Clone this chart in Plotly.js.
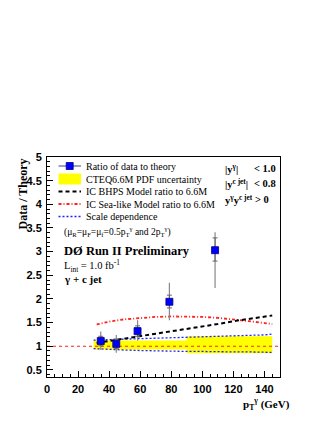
<!DOCTYPE html>
<html><head><meta charset="utf-8">
<script src="https://cdn.plot.ly/plotly-3.0.1.min.js"></script>
<style>html,body{margin:0;padding:0;background:#fff}</style>
</head><body><div id="chart" style="width:327px;height:423px"></div>
<script>
// ---- data ----
const ptX = [34.6, 44.6, 58.3, 78.8, 108.2];
const ptY = [1.11, 1.05, 1.32, 1.94, 3.03];
const totUp = [0.20, 0.19, 0.23, 0.40, 0.38];
const totDn = [0.19, 0.19, 0.20, 0.39, 0.80];
const statUp = [0.10, 0.10, 0.11, 0.14, 0.26];
const statDn = [0.10, 0.10, 0.11, 0.13, 0.23];

const bandEdges = [30, 90, 145];
const bandLo = [0.93, 0.85];
const bandHi = [1.12, 1.21];

const curveX = [32, 40, 50, 60, 70, 80, 90, 100, 110, 120, 130, 140, 145];
const bhpsY  = [1.07, 1.11, 1.16, 1.21, 1.27, 1.32, 1.37, 1.42, 1.47, 1.53, 1.58, 1.63, 1.65];
const seaY   = [1.46, 1.52, 1.57, 1.60, 1.62, 1.63, 1.63, 1.62, 1.60, 1.57, 1.53, 1.49, 1.47];
const scaleX = [30, 40, 50, 60, 70, 80, 90, 100, 110, 120, 130, 140, 145];
const scaleHi = [1.13, 1.14, 1.15, 1.16, 1.17, 1.18, 1.19, 1.20, 1.21, 1.22, 1.22, 1.24, 1.26];
const scaleLo = [0.95, 0.93, 0.92, 0.91, 0.90, 0.90, 0.89, 0.89, 0.88, 0.88, 0.88, 0.87, 0.87];
const refX = [0, 150];
const refY = [1, 1];

const legendLabels = ["Ratio of data to theory", "CTEQ6.6M PDF uncertainty",
  "IC BHPS Model ratio to 6.6M", "IC Sea-like Model ratio to 6.6M", "Scale dependence"];

// ---- build band polygon (histogram steps) ----
const bx = [], by = [];
for (let i = 0; i < bandLo.length; i++) { bx.push(bandEdges[i], bandEdges[i+1]); by.push(bandHi[i], bandHi[i]); }
for (let i = bandLo.length - 1; i >= 0; i--) { bx.push(bandEdges[i+1], bandEdges[i]); by.push(bandLo[i], bandLo[i]); }
bx.push(bx[0]); by.push(by[0]);

const blueDot = {color: '#2020ff', width: 1.3, dash: '2px,2px'};
const redDashDot = {color: '#ff2020', width: 1.8, dash: '3px,2px,1px,2px'};
const blackDash = {color: '#000', width: 2, dash: '4px,3px'};

const traces = [
  {x: bx, y: by, type: 'scatter', mode: 'lines', fill: 'toself', fillcolor: '#ffff00',
   line: {width: 0}, hoverinfo: 'skip'},
  {x: scaleX, y: scaleHi, type: 'scatter', mode: 'lines', line: blueDot},
  {x: scaleX, y: scaleLo, type: 'scatter', mode: 'lines', line: blueDot},
  {x: refX, y: refY, type: 'scatter', mode: 'lines', line: {color: '#ff2020', width: 1, dash: 'dot'}},
  {x: curveX, y: seaY, type: 'scatter', mode: 'lines', line: redDashDot},
  {x: curveX, y: bhpsY, type: 'scatter', mode: 'lines', line: blackDash},
  {x: ptX, y: ptY, type: 'scatter', mode: 'markers',
   marker: {symbol: 'square', size: 1, color: 'rgba(0,0,0,0)'},
   error_y: {type: 'data', symmetric: false, array: totUp, arrayminus: totDn, color: '#888', thickness: 1.2, width: 0}},
  {x: ptX, y: ptY, type: 'scatter', mode: 'markers',
   marker: {symbol: 'square', size: 7, color: '#0000ff', line: {color: '#000080', width: 0.8}},
   error_y: {type: 'data', symmetric: false, array: statUp, arrayminus: statDn, color: '#666', thickness: 1, width: 2.5}}
];

// ---- legend / text (pixel helpers) ----
const L = 47, T = 157, W = 233, H = 220;
const px = v => (v - L) / W;
const py = v => (T + H - v) / H;
const serif = 'Liberation Serif, Times New Roman, serif';
const ann = [];
function A(text, x, y, size, bold, xanchor) {
  ann.push({text: text, x: px(x), y: py(y), xref: 'paper', yref: 'paper', showarrow: false,
    xanchor: xanchor || 'left', yanchor: 'middle',
    font: {family: serif, size: size, color: '#000', weight: bold ? 'bold' : 'normal'}});
}
const rowY = [166, 179, 191.5, 204, 216.5];
legendLabels.forEach((t, i) => A(t, 84, rowY[i], 10, false));
A("(μ<sub>R</sub>=μ<sub>F</sub>=μ<sub>f</sub>=0.5p<sub>T</sub><sup>γ</sup> and 2p<sub>T</sub><sup>γ</sup>)", 62, 231, 9.5, false);
A("DØ Run II Preliminary", 62, 251, 12.5, true);
A("L<sub>int</sub> = 1.0 fb<sup>-1</sup>", 62, 266, 10.5, false);
A("γ + c jet", 62, 279, 11, true);
A("|y<sup>γ</sup>|", 223, 168, 10.5, true);
A("&lt; 1.0", 278, 168, 10.5, true, 'right');
A("|y<sup>c jet</sup>|", 223, 183, 10.5, true);
A("&lt; 0.8", 278, 183, 10.5, true, 'right');
A("y<sup>γ</sup>y<sup>c jet</sup>", 223, 199, 10.5, true);
A("&gt; 0", 271, 199, 10.5, true, 'right');
// axis titles
ann.push({text: "Data / Theory", x: px(22), y: py(157), xref: 'paper', yref: 'paper', showarrow: false,
  textangle: -90, xanchor: 'center', yanchor: 'top', font: {family: serif, size: 12, weight: 'bold', color: '#000'}});
ann.push({text: "p<sub>T</sub><sup>γ</sup> (GeV)", x: px(292), y: py(404), xref: 'paper', yref: 'paper', showarrow: false,
  xanchor: 'right', yanchor: 'middle', font: {family: serif, size: 11, weight: 'bold', color: '#000'}});

const shapes = [];
function S(o) { o.xref = 'paper'; o.yref = 'paper'; shapes.push(o); }
const sx0 = 58.5, sx1 = 81;
S({type: 'line', x0: px(sx0), x1: px(sx1), y0: py(rowY[0]), y1: py(rowY[0]), line: {color: '#404080', width: 1}});
S({type: 'rect', x0: px(69.7 - 3.5), x1: px(69.7 + 3.5), y0: py(rowY[0] - 3.5), y1: py(rowY[0] + 3.5), fillcolor: '#0000ff', line: {color: '#000080', width: 0.8}});
S({type: 'rect', x0: px(sx0), x1: px(sx1), y0: py(rowY[1] - 5.5), y1: py(rowY[1] + 5.5), fillcolor: '#ffff00', line: {width: 0}});
S({type: 'line', x0: px(sx0), x1: px(sx1), y0: py(rowY[2]), y1: py(rowY[2]), line: blackDash});
S({type: 'line', x0: px(sx0), x1: px(sx1), y0: py(rowY[3]), y1: py(rowY[3]), line: redDashDot});
S({type: 'line', x0: px(sx0), x1: px(sx1), y0: py(rowY[4]), y1: py(rowY[4]), line: blueDot});

const tickfont = {family: 'Liberation Sans, Arial, sans-serif', size: 11, weight: 'bold', color: '#000'};
const layout = {
  width: 327, height: 423,
  margin: {l: L, r: 327 - L - W, t: T, b: 423 - T - H},
  paper_bgcolor: '#fff', plot_bgcolor: '#fff',
  showlegend: false,
  xaxis: {range: [0, 150], tick0: 0, dtick: 20, ticks: 'inside', ticklen: 6, tickwidth: 1, tickcolor: '#000',
    minor: {dtick: 5, ticks: 'inside', ticklen: 3, tickcolor: '#000'},
    showline: true, linecolor: '#000', linewidth: 1, mirror: true, showgrid: false, zeroline: false,
    tickfont: tickfont, ticklabelstandoff: 2},
  yaxis: {range: [0.35, 5], tick0: 0, dtick: 0.5, ticks: 'inside', ticklen: 6, tickwidth: 1, tickcolor: '#000',
    minor: {dtick: 0.1, ticks: 'inside', ticklen: 3, tickcolor: '#000'},
    showline: true, linecolor: '#000', linewidth: 1, mirror: true, showgrid: false, zeroline: false,
    tickfont: tickfont, ticklabelstandoff: 2},
  annotations: ann,
  shapes: shapes
};
Plotly.newPlot('chart', traces, layout, {displayModeBar: false, staticPlot: true});
</script></body></html>
